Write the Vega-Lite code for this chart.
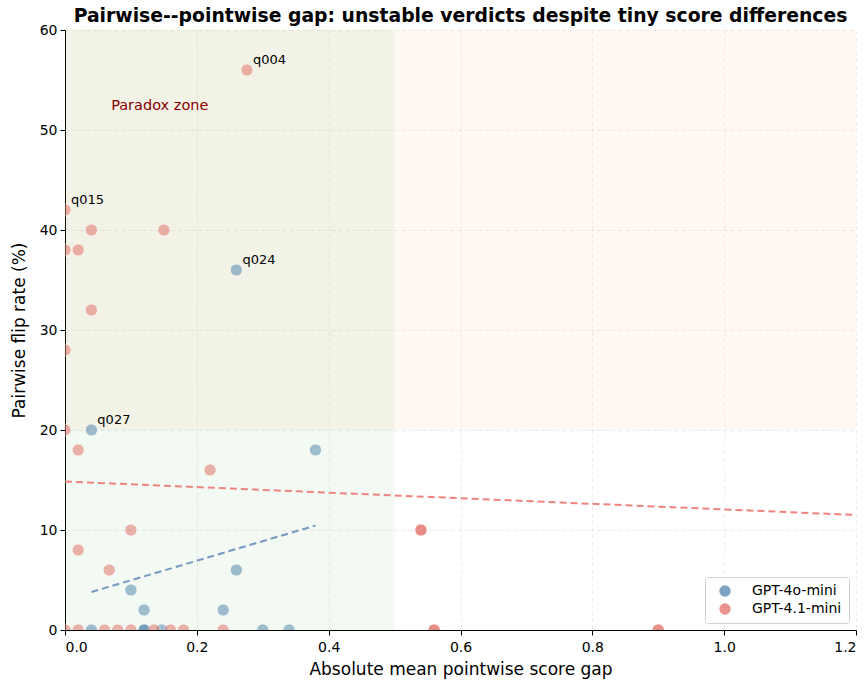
{
  "$schema": "https://vega.github.io/schema/vega-lite/v6.json",
  "width": 791,
  "height": 600,
  "autosize": {"type": "none"},
  "padding": {"left": 65, "top": 30, "right": 12, "bottom": 51},
  "background": "white",
  "title": {
    "text": "Pairwise--pointwise gap: unstable verdicts despite tiny score differences",
    "font": "DejaVu Sans",
    "fontSize": 18.8,
    "fontWeight": "bold",
    "color": "black",
    "anchor": "middle",
    "offset": 4,
    "dy": 7
  },
  "config": {
    "view": {"stroke": null},
    "font": "DejaVu Sans",
    "axis": {
      "labelFont": "DejaVu Sans",
      "titleFont": "DejaVu Sans",
      "labelFontSize": 14,
      "titleFontSize": 17,
      "titleFontWeight": "normal",
      "labelColor": "black",
      "titleColor": "black",
      "domainColor": "black",
      "domainWidth": 1,
      "tickColor": "black",
      "tickSize": 5,
      "grid": true,
      "gridDash": [4, 3],
      "gridColor": "#b0b0b0",
      "gridOpacity": 0.3,
      "gridWidth": 0.8
    }
  },
  "datasets": {
    "points": [
      {"model": "GPT-4o-mini", "gap": 0.26, "flip": 36, "qid": "q024"},
      {"model": "GPT-4o-mini", "gap": 0.04, "flip": 20, "qid": "q027"},
      {"model": "GPT-4o-mini", "gap": 0.38, "flip": 18, "qid": ""},
      {"model": "GPT-4o-mini", "gap": 0.26, "flip": 6, "qid": ""},
      {"model": "GPT-4o-mini", "gap": 0.10, "flip": 4, "qid": ""},
      {"model": "GPT-4o-mini", "gap": 0.12, "flip": 2, "qid": ""},
      {"model": "GPT-4o-mini", "gap": 0.24, "flip": 2, "qid": ""},
      {"model": "GPT-4o-mini", "gap": 0.04, "flip": 0, "qid": ""},
      {"model": "GPT-4o-mini", "gap": 0.12, "flip": 0, "qid": ""},
      {"model": "GPT-4o-mini", "gap": 0.12, "flip": 0, "qid": ""},
      {"model": "GPT-4o-mini", "gap": 0.147, "flip": 0, "qid": ""},
      {"model": "GPT-4o-mini", "gap": 0.30, "flip": 0, "qid": ""},
      {"model": "GPT-4o-mini", "gap": 0.34, "flip": 0, "qid": ""},
      {"model": "GPT-4.1-mini", "gap": 0.276, "flip": 56, "qid": "q004"},
      {"model": "GPT-4.1-mini", "gap": 0.0, "flip": 42, "qid": "q015"},
      {"model": "GPT-4.1-mini", "gap": 0.04, "flip": 40, "qid": ""},
      {"model": "GPT-4.1-mini", "gap": 0.15, "flip": 40, "qid": ""},
      {"model": "GPT-4.1-mini", "gap": 0.0, "flip": 38, "qid": ""},
      {"model": "GPT-4.1-mini", "gap": 0.02, "flip": 38, "qid": ""},
      {"model": "GPT-4.1-mini", "gap": 0.04, "flip": 32, "qid": ""},
      {"model": "GPT-4.1-mini", "gap": 0.0, "flip": 28, "qid": ""},
      {"model": "GPT-4.1-mini", "gap": 0.0, "flip": 20, "qid": ""},
      {"model": "GPT-4.1-mini", "gap": 0.02, "flip": 18, "qid": ""},
      {"model": "GPT-4.1-mini", "gap": 0.22, "flip": 16, "qid": ""},
      {"model": "GPT-4.1-mini", "gap": 0.10, "flip": 10, "qid": ""},
      {"model": "GPT-4.1-mini", "gap": 0.54, "flip": 10, "qid": ""},
      {"model": "GPT-4.1-mini", "gap": 0.54, "flip": 10, "qid": ""},
      {"model": "GPT-4.1-mini", "gap": 0.02, "flip": 8, "qid": ""},
      {"model": "GPT-4.1-mini", "gap": 0.067, "flip": 6, "qid": ""},
      {"model": "GPT-4.1-mini", "gap": 0.0, "flip": 0, "qid": ""},
      {"model": "GPT-4.1-mini", "gap": 0.02, "flip": 0, "qid": ""},
      {"model": "GPT-4.1-mini", "gap": 0.06, "flip": 0, "qid": ""},
      {"model": "GPT-4.1-mini", "gap": 0.08, "flip": 0, "qid": ""},
      {"model": "GPT-4.1-mini", "gap": 0.10, "flip": 0, "qid": ""},
      {"model": "GPT-4.1-mini", "gap": 0.135, "flip": 0, "qid": ""},
      {"model": "GPT-4.1-mini", "gap": 0.16, "flip": 0, "qid": ""},
      {"model": "GPT-4.1-mini", "gap": 0.18, "flip": 0, "qid": ""},
      {"model": "GPT-4.1-mini", "gap": 0.24, "flip": 0, "qid": ""},
      {"model": "GPT-4.1-mini", "gap": 0.56, "flip": 0, "qid": ""},
      {"model": "GPT-4.1-mini", "gap": 0.56, "flip": 0, "qid": ""},
      {"model": "GPT-4.1-mini", "gap": 0.90, "flip": 0, "qid": ""},
      {"model": "GPT-4.1-mini", "gap": 0.90, "flip": 0, "qid": ""}
    ],
    "trendBlue": [
      {"model": "GPT-4o-mini", "gap": 0.04, "flip": 3.8},
      {"model": "GPT-4o-mini", "gap": 0.38, "flip": 10.45}
    ],
    "trendRed": [
      {"model": "GPT-4.1-mini", "gap": 0.0, "flip": 14.85},
      {"model": "GPT-4.1-mini", "gap": 1.2, "flip": 11.5}
    ],
    "greenZone": [{"x1": 0, "x2": 0.5, "y1": 0, "y2": 60}],
    "orangeZone": [{"x1": 0, "x2": 1.2, "y1": 20, "y2": 60}],
    "note": [{"gap": 0.07, "flip": 52.4, "text": "Paradox zone"}]
  },
  "layer": [
    {
      "data": {"name": "greenZone"},
      "mark": {"type": "rect", "color": "#2ca02c", "opacity": 0.06},
      "encoding": {
        "x": {"field": "x1", "type": "quantitative", "scale": {"domain": [0, 1.2], "nice": false}, "axis": {"title": "Absolute mean pointwise score gap", "values": [0, 0.2, 0.4, 0.6, 0.8, 1.0, 1.2], "format": ".1f", "labelPadding": 5, "titlePadding": 7}},
        "x2": {"field": "x2"},
        "y": {"field": "y1", "type": "quantitative", "scale": {"domain": [0, 60], "nice": false}, "axis": {"title": "Pairwise flip rate (%)", "values": [0, 10, 20, 30, 40, 50, 60], "labelPadding": 3, "titlePadding": 11}},
        "y2": {"field": "y2"}
      }
    },
    {
      "data": {"name": "orangeZone"},
      "mark": {"type": "rect", "color": "#ff7f0e", "opacity": 0.05},
      "encoding": {
        "x": {"field": "x1", "type": "quantitative"},
        "x2": {"field": "x2"},
        "y": {"field": "y1", "type": "quantitative"},
        "y2": {"field": "y2"}
      }
    },
    {
      "data": {"name": "trendBlue"},
      "mark": {"type": "line", "strokeDash": [7, 4], "strokeWidth": 2, "clip": true, "color": "#7598c2"},
      "encoding": {
        "x": {"field": "gap", "type": "quantitative"},
        "y": {"field": "flip", "type": "quantitative"}
      }
    },
    {
      "data": {"name": "trendRed"},
      "mark": {"type": "line", "strokeDash": [7, 4], "strokeWidth": 2, "clip": true, "color": "#ee8480"},
      "encoding": {
        "x": {"field": "gap", "type": "quantitative"},
        "y": {"field": "flip", "type": "quantitative"}
      }
    },
    {
      "data": {"name": "points"},
      "mark": {"type": "circle", "size": 150, "opacity": 0.5, "stroke": "white", "strokeWidth": 0.8, "clip": true},
      "encoding": {
        "x": {"field": "gap", "type": "quantitative"},
        "y": {"field": "flip", "type": "quantitative"},
        "color": {
          "field": "model", "type": "nominal",
          "scale": {"domain": ["GPT-4o-mini", "GPT-4.1-mini"], "range": ["#4a80a8", "#e06a60"]},
          "legend": {
            "title": null,
            "orient": "bottom-right",
            "offset": 7,
            "labelFont": "DejaVu Sans",
            "labelFontSize": 14,
            "labelColor": "black",
            "symbolType": "circle",
            "symbolSize": 130,
            "symbolOpacity": 0.72,
            "symbolStrokeWidth": 0,
            "symbolOffset": 6,
            "fillColor": "white",
            "strokeColor": "#d0d0d0",
            "cornerRadius": 3,
            "padding": 7,
            "rowPadding": 4,
            "labelOffset": 20
          }
        }
      }
    },
    {
      "data": {"name": "points"},
      "transform": [{"filter": "datum.qid != ''"}],
      "mark": {"type": "text", "align": "left", "baseline": "middle", "dx": 6, "dy": -10, "fontSize": 13, "color": "black", "font": "DejaVu Sans"},
      "encoding": {
        "x": {"field": "gap", "type": "quantitative"},
        "y": {"field": "flip", "type": "quantitative"},
        "text": {"field": "qid"}
      }
    },
    {
      "data": {"name": "note"},
      "mark": {"type": "text", "align": "left", "baseline": "middle", "fontSize": 14.5, "color": "#8b0000", "font": "DejaVu Sans"},
      "encoding": {
        "x": {"field": "gap", "type": "quantitative"},
        "y": {"field": "flip", "type": "quantitative"},
        "text": {"field": "text"}
      }
    }
  ]
}
